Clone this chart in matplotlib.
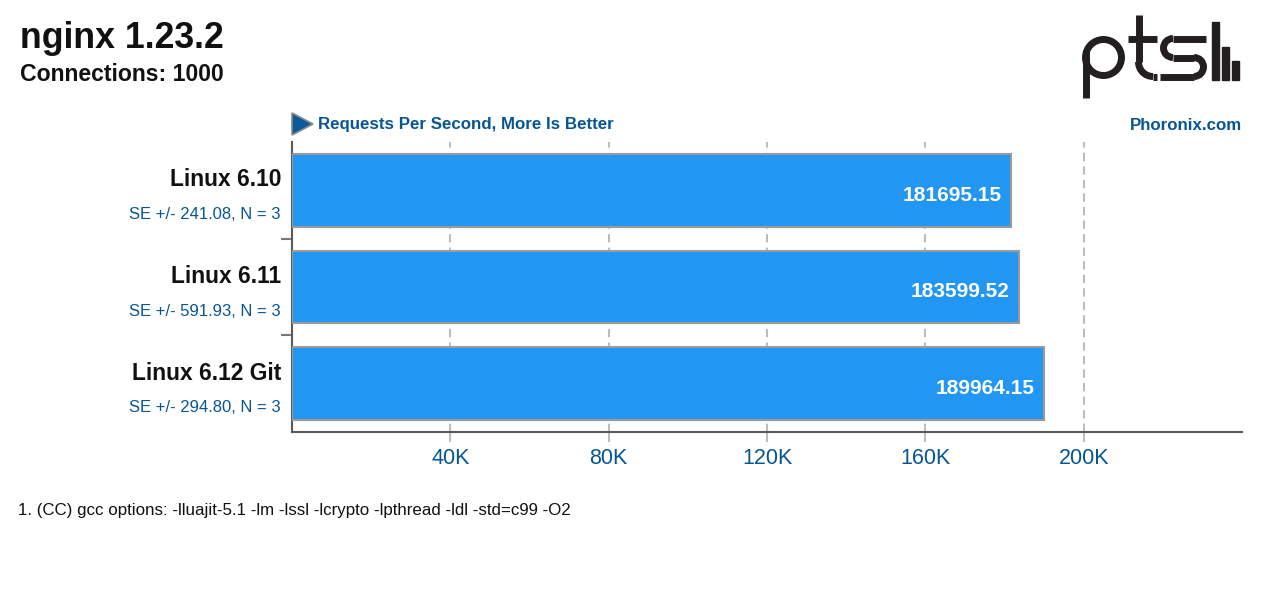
import matplotlib
matplotlib.use("Agg")
import matplotlib.pyplot as plt
from matplotlib.patches import Circle, Arc, Rectangle, Polygon
from matplotlib.ticker import FuncFormatter

plt.rcParams["font.family"] = ["Liberation Sans", "DejaVu Sans"]

# data
systems = ["Linux 6.10", "Linux 6.11", "Linux 6.12 Git"]
values = [181695.15, 183599.52, 189964.15]
se_text = ["SE +/- 241.08, N = 3", "SE +/- 591.93, N = 3", "SE +/- 294.80, N = 3"]
ticks = [40000, 80000, 120000, 160000, 200000]

BLUE_TXT = "#065695"
BAR = "#2196f3"
W, H = 1280, 590

fig = plt.figure(figsize=(W / 100, H / 100), dpi=100)

def fx(px):
    return px / W

def fy(py):
    return 1 - py / H

# main axes: pixel box 292..1242 x 142..432
ax = fig.add_axes([fx(292), fy(432), fx(1242 - 292), (432 - 142) / H])
ypos = range(len(systems))
ax.barh(ypos, values, height=0.75, color=BAR, edgecolor="#9a9a9a", linewidth=1.5, zorder=3)
ax.set_xlim(0, 240000)
ax.set_ylim(len(systems) - 0.5, -0.5)

ax.set_xticks(ticks)
ax.xaxis.set_major_formatter(FuncFormatter(lambda v, p: f"{int(v / 1000)}K"))
ax.tick_params(axis="x", length=7.5, width=1.5, color="#bdbdbd", pad=4,
               labelsize=15.5, labelcolor=BLUE_TXT)
ax.grid(axis="x", color="#bdbdbd", linewidth=1.5, linestyle=(0, (4, 2.5)), zorder=1)

ax.set_yticks([])
ax.set_yticks([i + 0.5 for i in range(len(systems) - 1)], minor=True)
ax.tick_params(axis="y", which="minor", length=8, width=1.5, color="#777777")

for s in ["top", "right"]:
    ax.spines[s].set_visible(False)
for s in ["left", "bottom"]:
    ax.spines[s].set_color("#5a5a5a")
    ax.spines[s].set_linewidth(1.5)

for i, (name, v, se) in enumerate(zip(systems, values, se_text)):
    ax.annotate(name, xy=(0, i), xycoords=("axes fraction", "data"),
                xytext=(-8, 7.5), textcoords="offset points",
                ha="right", va="center", fontsize=16.4, fontweight="bold", color="#111111")
    ax.annotate(se, xy=(0, i), xycoords=("axes fraction", "data"),
                xytext=(-8, -17.5), textcoords="offset points",
                ha="right", va="center", fontsize=12, color=BLUE_TXT)
    ax.annotate(f"{v:.2f}", xy=(v, i), xycoords="data",
                xytext=(-7, -3.5), textcoords="offset points",
                ha="right", va="center", fontsize=15, fontweight="bold",
                color="white", zorder=5)

# header texts
fig.text(fx(20), fy(48), "nginx 1.23.2", fontsize=25.7, fontweight="bold",
         color="#111111", va="baseline")
fig.text(fx(20), fy(81), "Connections: 1000", fontsize=16.6, fontweight="bold",
         color="#111111", va="baseline")
fig.text(fx(318), fy(125), "Requests Per Second, More Is Better", fontsize=12.2,
         fontweight="bold", color=BLUE_TXT, va="center")
fig.text(fx(1242), fy(125), "Phoronix.com", fontsize=12.2, fontweight="bold",
         color=BLUE_TXT, va="center", ha="right")
fig.patches.append(Polygon([(fx(292), fy(113)), (fx(292), fy(135)), (fx(313), fy(124))],
                           closed=True, transform=fig.transFigure, facecolor="#0b5a9a",
                           edgecolor="#8a8a8a", linewidth=1.2))
fig.text(fx(18), fy(510),
         "1. (CC) gcc options: -lluajit-5.1 -lm -lssl -lcrypto -lpthread -ldl -std=c99 -O2",
         fontsize=12.2, color="#111111", va="center")

# ptsl logo, drawn in pixel coordinates
lg = fig.add_axes([fx(1070), fy(105), fx(180), 95 / H])
lg.set_xlim(1070, 1250)
lg.set_ylim(105, 10)
lg.axis("off")
ink = "#231f20"
lw = 5
# p
lg.plot([1085.5, 1085.5], [50, 98], color=ink, lw=lw, solid_capstyle="butt")
lg.add_patch(Circle((1103.5, 57.5), 18, fill=False, edgecolor=ink, lw=lw))
# t
lg.plot([1139, 1139], [15, 62], color=ink, lw=lw, solid_capstyle="butt")
lg.add_patch(Arc((1153, 62), 29, 29, theta1=90, theta2=180, edgecolor=ink, lw=lw))
lg.plot([1153, 1157], [76.5, 76.5], color=ink, lw=lw, solid_capstyle="butt")
lg.plot([1128, 1157], [38.5, 38.5], color=ink, lw=lw, solid_capstyle="butt")
# s
lg.plot([1206, 1173], [38.5, 38.5], color=ink, lw=lw, solid_capstyle="butt")
lg.add_patch(Arc((1173, 48), 19, 19, theta1=90, theta2=270, edgecolor=ink, lw=lw))
lg.plot([1173, 1194], [57.5, 57.5], color=ink, lw=lw, solid_capstyle="butt")
lg.add_patch(Arc((1194, 67), 19, 19, theta1=-90, theta2=90, edgecolor=ink, lw=lw))
lg.plot([1194, 1160], [76.5, 76.5], color=ink, lw=lw, solid_capstyle="butt")
# l and bars
lg.add_patch(Rectangle((1211.5, 22), 7, 58, color=ink))
lg.add_patch(Rectangle((1222, 47), 7, 33, color=ink))
lg.add_patch(Rectangle((1232, 61), 7, 19, color=ink))

fig.savefig("out.png", dpi=100)
